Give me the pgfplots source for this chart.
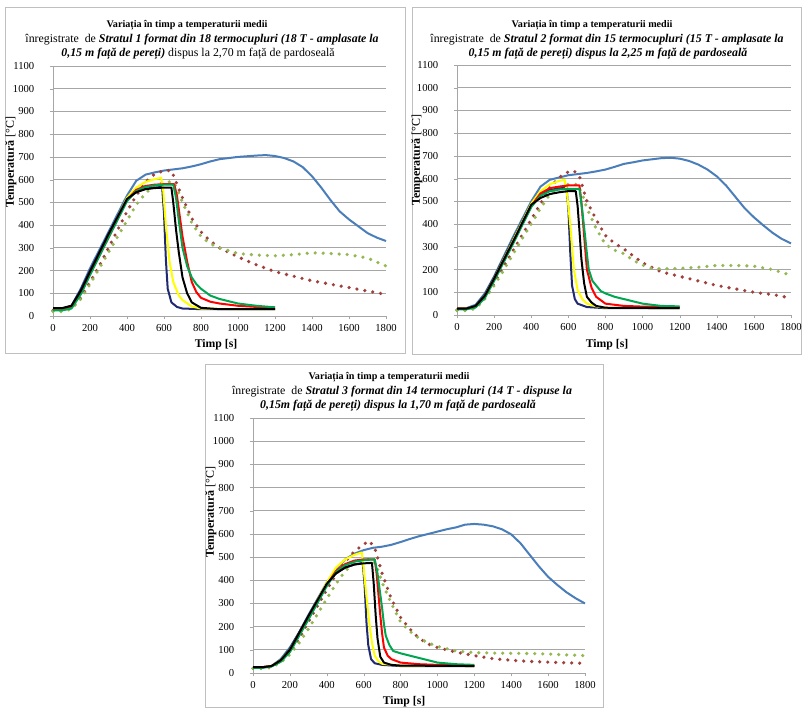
\documentclass[border=0pt]{standalone}
\usepackage{pgfplots}
\pgfplotsset{compat=1.18}
\usepackage{fontspec}
\setmainfont{Liberation Serif}
\definecolor{cblue}{HTML}{4A7EBB}
\definecolor{cdred}{HTML}{A0403C}
\definecolor{cdgreen}{HTML}{94B853}
\definecolor{cnavy}{HTML}{1F2A70}
\definecolor{cyellow}{HTML}{FFFF00}
\definecolor{cred}{HTML}{FF0000}
\definecolor{cgreen}{HTML}{00A550}
\definecolor{cgrid}{HTML}{A6A6A6}
\definecolor{cframe}{HTML}{BFBFBF}
\newcommand{\tfont}{\fontsize{7.6}{9}\selectfont}
\newcommand{\sfont}{\fontsize{8.9}{10}\selectfont}
\pgfplotsset{
  panel/.style={
    scale only axis, xmin=0, xmax=1800, ymin=0, ymax=1100,
    xtick={0,200,...,1800}, ytick={0,100,...,1100},
    axis lines=left, axis line style={draw=cgrid,-},
    ymajorgrids, grid style={cgrid, line width=0.6pt},
    tick style={draw=cgrid}, tick align=outside, major tick length=2.5pt,
    ticklabel style={font=\fontsize{8}{9.6}\selectfont},
    yticklabel style={xshift=-8pt},
    /pgf/number format/assume math mode=true,
    /pgf/number format/1000 sep={},
    clip=false,
  },
  sl/.style={line width=1.5pt, line join=round},
  dl/.style={line width=2.7pt, dash pattern=on 0pt off 6pt, line cap=round},
}
\begin{document}
\begin{tikzpicture}
\useasboundingbox (0,0) rectangle (602.25pt,-531pt);
\begin{scope}[x=0.75pt,y=-0.75pt]
\draw[cframe, line width=0.75pt] (5,7) rectangle (405,353);
\draw[cframe, line width=0.75pt] (412,7) rectangle (801,354);
\draw[cframe, line width=0.75pt] (205,364) rectangle (603,707.5);
% titles panel 1
\node[font=\tfont\bfseries] at (187,25) {Variația în timp a temperaturii medii};
\node[font=\sfont] at (202,40) {înregistrate\ \ de \textbf{\textit{Stratul 1 format din 18 termocupluri (18 T - amplasate la}}};
\node[font=\sfont] at (198,54) {\textbf{\textit{0,15 m față de pereți)}} dispus la 2,70 m față de pardoseală};
% titles panel 2
\node[font=\tfont\bfseries] at (592,25) {Variația în timp a temperaturii medii};
\node[font=\sfont] at (607,40) {înregistrate\ \ de \textbf{\textit{Stratul 2 format din 15 termocupluri (15 T - amplasate la}}};
\node[font=\sfont] at (608,54) {\textbf{\textit{0,15 m față de pereți) dispus la 2,25 m față de pardoseală}}};
% titles panel 3
\node[font=\tfont\bfseries] at (389,377) {Variația în timp a temperaturii medii};
\node[font=\sfont] at (402,392) {înregistrate\ \ de \textbf{\textit{Stratul 3 format din 14 termocupluri (14 T - dispuse la}}};
\node[font=\sfont] at (398,406) {\textbf{\textit{0,15m față de pereți) dispus la 1,70 m față de pardoseală}}};
% axis labels
\node[font=\fontsize{8.8}{10}\selectfont\bfseries] at (216,345) {Timp [s]};
\node[font=\fontsize{8.8}{10}\selectfont\bfseries] at (607,345) {Timp [s]};
\node[font=\fontsize{8.8}{10}\selectfont\bfseries] at (404,702) {Timp [s]};
\node[font=\fontsize{9}{10}\selectfont, rotate=90] at (11,162) {\textbf{Temperatură} [°C]};
\node[font=\fontsize{9}{10}\selectfont, rotate=90] at (417,160) {\textbf{Temperatură} [°C]};
\node[font=\fontsize{9}{10}\selectfont, rotate=90] at (211,512) {\textbf{Temperatură} [°C]};
\end{scope}

% ---------------- Panel 1 ----------------
\begin{axis}[panel, at={(39.75pt,-237pt)}, anchor=origin, width=249.75pt, height=187.5pt]
\addplot[sl, cblue] coordinates {(0,33)(50,33)(100,45)(150,120)(200,210)(250,290)(300,370)(350,450)(400,530)(450,595)(500,622)(550,632)(600,640)(650,645)(700,650)(750,658)(800,668)(850,680)(900,690)(950,695)(1000,700)(1050,703)(1100,706)(1150,708)(1200,704)(1250,695)(1300,680)(1350,655)(1400,615)(1450,565)(1500,510)(1550,460)(1600,425)(1650,395)(1700,365)(1750,345)(1800,330)};
\addplot[dl, cdred] coordinates {(0,25)(50,25)(100,35)(150,80)(200,150)(250,220)(300,300)(350,380)(400,460)(450,530)(500,590)(550,625)(600,640)(640,640)(670,580)(700,520)(750,430)(800,370)(850,330)(900,300)(1000,260)(1100,225)(1200,195)(1300,175)(1400,155)(1500,140)(1600,125)(1700,110)(1800,95)};
\addplot[dl, cdgreen] coordinates {(0,20)(50,20)(100,30)(150,75)(200,140)(250,210)(300,280)(350,350)(400,420)(450,490)(500,540)(550,575)(600,590)(650,590)(680,540)(700,500)(750,410)(800,350)(850,318)(900,300)(1000,275)(1100,268)(1200,265)(1300,270)(1400,278)(1500,275)(1600,270)(1700,255)(1800,220)};
\addplot[sl, cnavy] coordinates {(0,32)(50,32)(100,45)(150,115)(200,200)(300,360)(400,515)(450,545)(500,560)(550,565)(590,568)(600,450)(610,250)(620,120)(640,60)(670,40)(700,33)(800,30)(1000,30)(1200,30)};
\addplot[sl, cyellow] coordinates {(0,32)(50,32)(100,40)(150,105)(200,190)(300,350)(400,520)(450,565)(500,590)(550,602)(585,608)(595,560)(610,400)(630,240)(650,150)(680,90)(700,70)(750,42)(800,33)(1000,30)(1200,30)};
\addplot[sl, cred] coordinates {(0,32)(50,32)(100,40)(150,100)(200,185)(300,345)(400,510)(450,555)(500,572)(550,578)(600,580)(655,580)(670,530)(685,440)(700,350)(725,240)(750,150)(775,105)(800,80)(850,63)(900,55)(1000,45)(1100,40)(1200,38)};
\addplot[sl, cgreen] coordinates {(0,25)(50,25)(100,33)(150,95)(200,180)(300,345)(400,505)(450,550)(500,568)(550,575)(600,578)(650,578)(665,520)(680,420)(700,300)(725,220)(750,170)(775,140)(800,120)(850,90)(900,75)(1000,55)(1100,45)(1200,38)};
\addplot[sl, black] coordinates {(0,35)(50,35)(100,45)(150,110)(200,195)(300,360)(400,515)(450,545)(500,558)(550,563)(600,565)(640,565)(650,500)(665,380)(680,280)(700,170)(725,100)(750,60)(800,36)(900,30)(1200,30)};
\end{axis}

% ---------------- Panel 2 ----------------
\begin{axis}[panel, at={(342.75pt,-236.25pt)}, anchor=origin, width=250.5pt, height=187.5pt]
\addplot[sl, cblue] coordinates {(0,30)(50,30)(100,45)(150,95)(200,170)(250,255)(300,340)(350,420)(400,500)(450,565)(500,595)(550,605)(600,615)(650,620)(700,625)(750,632)(800,640)(850,652)(900,665)(950,672)(1000,680)(1050,685)(1100,690)(1150,692)(1200,688)(1250,678)(1300,662)(1350,640)(1400,610)(1450,570)(1500,520)(1550,470)(1600,430)(1650,395)(1700,362)(1750,335)(1800,315)};
\addplot[dl, cdred] coordinates {(0,22)(50,22)(100,32)(150,75)(200,140)(250,210)(300,280)(350,350)(400,420)(450,490)(500,560)(550,605)(600,630)(630,635)(660,610)(700,500)(750,420)(800,350)(850,315)(900,290)(1000,230)(1100,190)(1200,170)(1300,150)(1400,130)(1500,115)(1600,100)(1700,90)(1800,75)};
\addplot[dl, cdgreen] coordinates {(0,20)(50,20)(100,28)(150,70)(200,130)(250,195)(300,265)(350,335)(400,400)(450,470)(500,530)(550,560)(600,575)(650,575)(680,520)(700,470)(750,380)(800,310)(850,285)(900,270)(950,240)(1000,220)(1050,205)(1100,203)(1200,205)(1300,210)(1400,218)(1500,218)(1600,215)(1700,200)(1800,175)};
\addplot[sl, cnavy] coordinates {(0,28)(50,28)(100,40)(150,90)(200,165)(300,330)(400,490)(450,535)(500,550)(550,557)(590,560)(600,470)(610,280)(620,130)(635,70)(650,50)(700,35)(800,30)(1200,30)};
\addplot[sl, cyellow] coordinates {(0,28)(50,28)(100,38)(150,85)(200,160)(300,325)(400,490)(450,545)(500,575)(550,590)(580,595)(595,520)(610,400)(630,200)(650,110)(675,70)(700,50)(750,38)(800,32)(1200,30)};
\addplot[sl, cred] coordinates {(0,28)(50,28)(100,35)(150,80)(200,155)(300,315)(400,480)(450,535)(500,558)(550,565)(600,570)(660,570)(670,500)(680,400)(690,300)(700,200)(725,120)(750,80)(800,50)(900,40)(1000,37)(1200,35)};
\addplot[sl, cgreen] coordinates {(0,25)(50,25)(100,33)(150,75)(200,150)(300,310)(400,475)(450,525)(500,545)(550,552)(600,555)(660,555)(675,460)(690,350)(700,270)(710,200)(730,150)(750,130)(775,105)(800,95)(850,80)(900,70)(950,60)(1000,50)(1100,40)(1200,38)};
\addplot[sl, black] coordinates {(0,28)(50,28)(100,40)(150,85)(200,160)(300,320)(400,485)(450,515)(500,532)(550,540)(600,545)(640,545)(650,480)(660,370)(670,250)(685,140)(700,80)(725,55)(750,40)(800,32)(1200,30)};
\end{axis}

% ---------------- Panel 3 ----------------
\begin{axis}[panel, at={(189.75pt,-504.75pt)}, anchor=origin, width=249pt, height=191.25pt]
\addplot[sl, cblue] coordinates {(0,25)(50,25)(100,30)(150,60)(200,110)(250,175)(300,250)(350,320)(400,390)(450,445)(500,490)(550,515)(600,530)(650,540)(700,545)(750,553)(800,565)(850,578)(900,590)(950,600)(1000,610)(1050,620)(1100,628)(1150,640)(1200,643)(1250,640)(1300,633)(1350,620)(1400,598)(1450,560)(1500,510)(1550,460)(1600,415)(1650,380)(1700,348)(1750,322)(1800,300)};
\addplot[dl, cdred] coordinates {(0,20)(50,20)(100,25)(150,50)(200,90)(250,150)(300,220)(350,290)(400,360)(450,425)(500,480)(550,525)(600,555)(630,570)(660,540)(700,430)(750,320)(800,240)(850,190)(900,150)(950,125)(1000,110)(1100,90)(1200,75)(1300,62)(1400,55)(1500,50)(1600,47)(1700,44)(1800,42)};
\addplot[dl, cdgreen] coordinates {(0,20)(50,20)(100,25)(150,45)(200,80)(250,130)(300,190)(350,255)(400,320)(450,385)(500,440)(550,475)(600,490)(650,490)(680,440)(700,390)(750,300)(800,220)(850,180)(900,150)(950,130)(1000,115)(1100,95)(1200,88)(1300,86)(1400,85)(1500,84)(1600,82)(1700,78)(1800,75)};
\addplot[sl, cnavy] coordinates {(0,25)(50,25)(100,30)(150,55)(200,105)(300,245)(400,385)(450,430)(500,455)(550,468)(595,475)(605,380)(615,220)(625,120)(640,60)(660,42)(700,35)(800,30)(1200,30)};
\addplot[sl, cyellow] coordinates {(0,25)(50,25)(100,30)(150,55)(200,100)(300,240)(400,390)(450,455)(500,490)(550,510)(590,520)(600,450)(615,330)(630,220)(645,130)(660,75)(680,50)(700,40)(800,32)(1200,30)};
\addplot[sl, cred] coordinates {(0,25)(50,25)(100,30)(150,50)(200,95)(300,235)(400,380)(450,440)(500,470)(550,485)(600,490)(660,490)(670,430)(680,340)(690,250)(700,170)(710,110)(730,75)(750,60)(800,45)(900,38)(1000,35)(1200,32)};
\addplot[sl, cgreen] coordinates {(0,22)(50,22)(100,28)(150,48)(200,90)(300,230)(400,375)(450,435)(500,465)(550,480)(600,487)(660,490)(675,430)(690,340)(700,280)(710,210)(720,160)(740,120)(760,95)(800,85)(850,75)(900,65)(950,55)(1000,45)(1100,38)(1200,35)};
\addplot[sl, black] coordinates {(0,25)(50,25)(100,30)(150,55)(200,100)(300,245)(400,385)(450,430)(500,455)(550,468)(600,473)(645,475)(655,380)(665,250)(675,150)(690,70)(710,45)(750,35)(800,32)(1200,30)};
\end{axis}
\end{tikzpicture}
\end{document}
